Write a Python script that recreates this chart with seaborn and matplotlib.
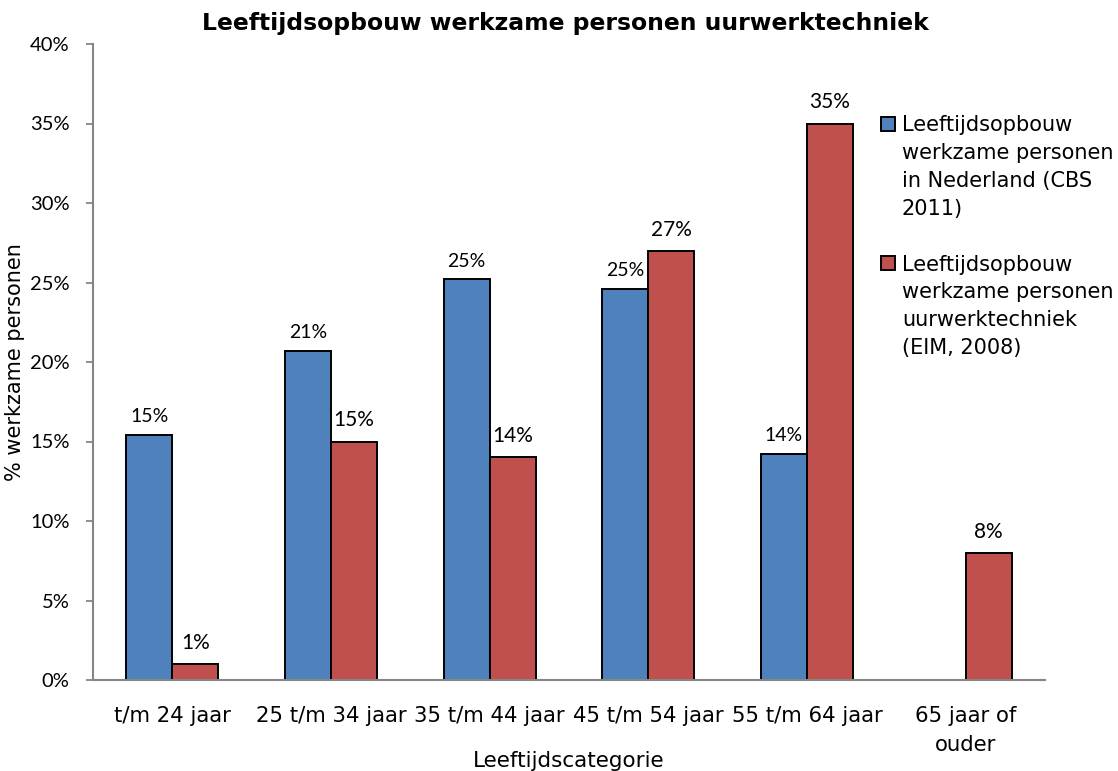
import numpy as np
import pandas as pd
import seaborn as sns
import matplotlib
matplotlib.use('Agg')
import matplotlib.pyplot as plt
from matplotlib.patches import Patch

# data (percentages)
categories = ['t/m 24 jaar', '25 t/m 34 jaar', '35 t/m 44 jaar', '45 t/m 54 jaar',
              '55 t/m 64 jaar', '65 jaar of\nouder']
cbs_2011 = [15.4, 20.7, 25.2, 24.6, 14.2, np.nan]
eim_2008 = [1, 15, 14, 27, 35, 8]
series = ['Leeftijdsopbouw werkzame personen in Nederland (CBS 2011)',
          'Leeftijdsopbouw werkzame personen uurwerktechniek (EIM, 2008)']
legend_lines = [['Leeftijdsopbouw', 'werkzame personen', 'in Nederland (CBS', '2011)'],
                ['Leeftijdsopbouw', 'werkzame personen', 'uurwerktechniek', '(EIM, 2008)']]
yticks = list(range(0, 41, 5))

BLUE = '#4F81BD'
RED = '#C0504D'
GREY = '#868686'
NUMFONT = 'Lato'

df = pd.DataFrame({
    'cat': categories * 2,
    'val': cbs_2011 + eim_2008,
    'serie': [series[0]] * 6 + [series[1]] * 6,
})

sns.set_style('white')
plt.rcParams['font.family'] = ['DejaVu Sans']
plt.rcParams['text.color'] = 'black'
plt.rcParams['axes.labelcolor'] = 'black'
plt.rcParams['xtick.color'] = 'black'
plt.rcParams['ytick.color'] = 'black'

fig = plt.figure(figsize=(11.18, 7.71), dpi=100)
ax = fig.add_axes([93 / 1118, 1 - 680 / 771, 952 / 1118, 636 / 771])

sns.barplot(data=df, x='cat', y='val', hue='serie', order=categories, hue_order=series,
            palette=[BLUE, RED], saturation=1, width=0.58, edgecolor='black', linewidth=1.4,
            errorbar=None, legend=False, ax=ax)

# data labels
ax.bar_label(ax.containers[0], fmt='{:.0f}%', padding=7, fontsize=14, family=NUMFONT)
ax.bar_label(ax.containers[1], fmt='{:.0f}%', padding=8, fontsize=15, family=NUMFONT)

ax.set_ylim(0, 40)
ax.set_yticks(yticks)
ax.set_yticklabels([f'{t}%' for t in yticks], family=NUMFONT, fontsize=14.5)
ax.set_xticks(range(len(categories)))
ax.set_xticklabels(categories, fontsize=15.3, linespacing=1.55)
ax.tick_params(axis='x', length=0, pad=19)
ax.tick_params(axis='y', length=5, width=1.3, color=GREY, direction='out', pad=12, left=True)

for s in ['top', 'right']:
    ax.spines[s].set_visible(False)
for s in ['left', 'bottom']:
    ax.spines[s].set_color(GREY)
    ax.spines[s].set_linewidth(1.5)

ax.set_xlabel('Leeftijdscategorie', fontsize=15.5)
ax.xaxis.set_label_coords(0.5, -0.111)
ax.set_ylabel('% werkzame personen', fontsize=15)
ax.yaxis.set_label_coords(-0.071, 0.5)
ax.set_title('Leeftijdsopbouw werkzame personen uurwerktechniek',
             fontsize=16.9, fontweight='bold', pad=10, x=0.496)

# legend: first line next to the swatch, the rest below it
blank = Patch(facecolor='none', edgecolor='none')
handles, labels = [], []
for color, lines in zip([BLUE, RED], legend_lines):
    for i, line in enumerate(lines):
        handles.append(Patch(facecolor=color, edgecolor='black', linewidth=1.4) if i == 0 else blank)
        labels.append(line)
    handles.append(blank)
    labels.append('')
handles, labels = handles[:-1], labels[:-1]
ax.legend(handles, labels, loc='upper left', bbox_to_anchor=(881 / 1118, 1 - 115 / 771),
          bbox_transform=fig.transFigure, frameon=False, borderpad=0, borderaxespad=0,
          fontsize=15, handlelength=0.65, handleheight=0.65, handletextpad=0.35,
          labelspacing=0.38)

fig.savefig('out.png', dpi=100)
